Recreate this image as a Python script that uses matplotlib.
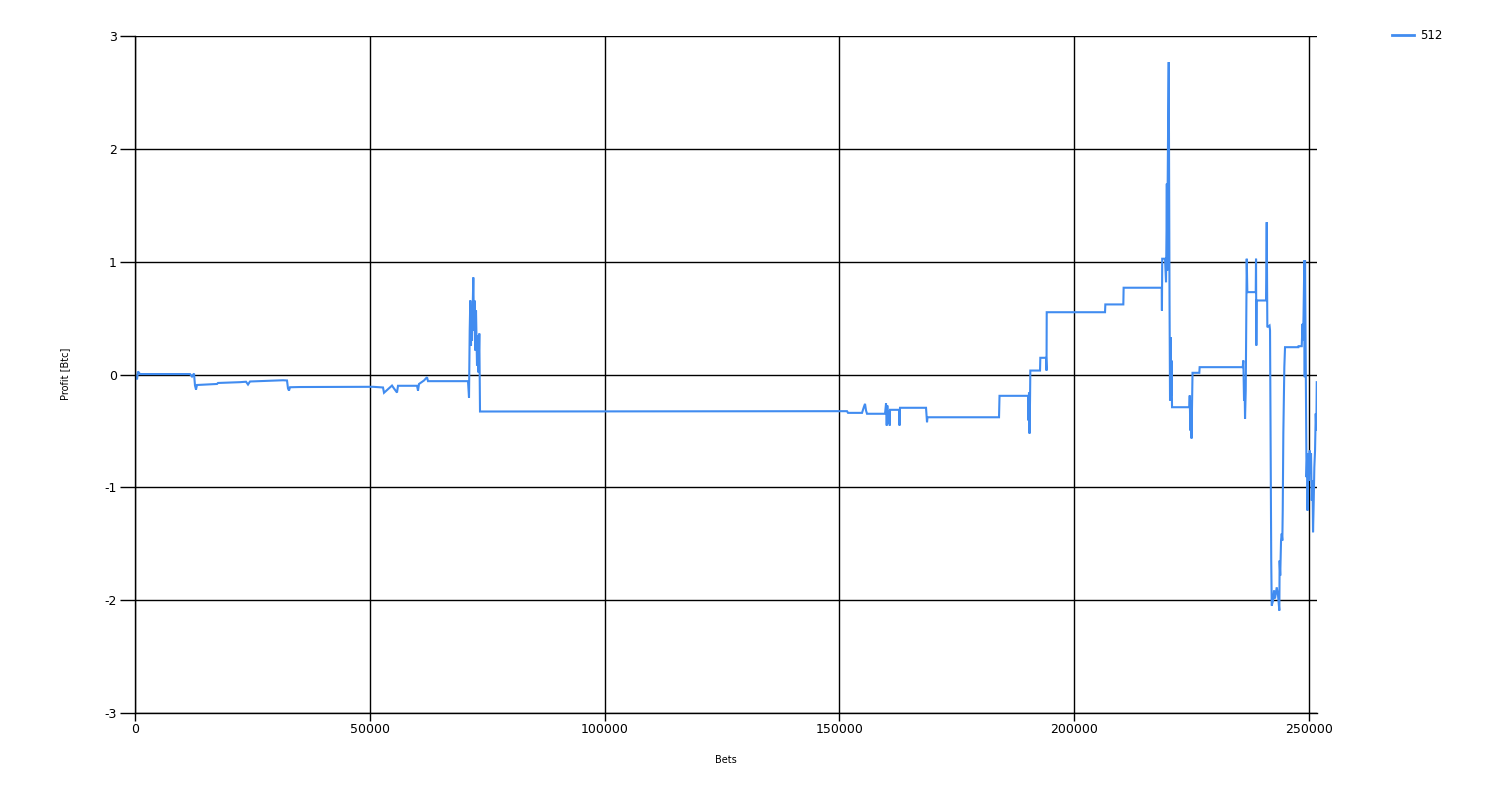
import matplotlib
matplotlib.use("Agg")
import matplotlib.pyplot as plt
from matplotlib.lines import Line2D

series_name = "512"
x_label = "Bets"
y_label = "Profit [Btc]"
x_ticks = [0, 50000, 100000, 150000, 200000, 250000]
y_ticks = [-3, -2, -1, 0, 1, 2, 3]

bets = [
    0, 426, 639, 1065, 11712, 12138, 12564, 12777, 12990, 13203,
    17462, 17675, 22360, 23637, 24063, 24489, 31517, 32368, 32581, 32794,
    33007, 35137, 50682, 52812, 53025, 54728, 55154, 55793, 56006, 60052,
    60265, 60478, 61543, 62181, 62394, 62820, 70912, 71125, 71274, 71402,
    71551, 71657, 71764, 72041, 72190, 72296, 72467, 72616, 72829, 73042,
    73149, 73319, 73404, 73468, 151620, 151833, 154815, 155241, 155454, 155667,
    155880, 159713, 159926, 160075, 160203, 160352, 160565, 160714, 160777, 162694,
    162801, 162907, 168443, 168656, 168762, 183989, 184095, 190164, 190271, 190377,
    190484, 190590, 190654, 192720, 192784, 193997, 194103, 194146, 206562, 206626,
    210459, 210523, 218636, 218679, 218742, 219339, 219552, 219658, 219722, 219807,
    219893, 220020, 220127, 220190, 220297, 220403, 220510, 220616, 220722, 220829,
    224513, 224598, 224726, 224833, 224982, 225194, 226643, 226707, 235885, 236013,
    236162, 236269, 236375, 236524, 236631, 236737, 236865, 238654, 238718, 238782,
    238846, 240847, 240996, 241124, 241593, 241699, 241954, 242061, 242338, 242551,
    242764, 243126, 243403, 243679, 243743, 243871, 244042, 244190, 244318, 244403,
    244531, 244744, 244893, 247725, 247768, 248449, 248620, 248726, 248833, 249003,
    249088, 249152, 249258, 249365, 249471, 249578, 249684, 249854, 250003, 250153,
    250280, 250429, 250578, 250749, 250856, 251005, 251133, 251282, 251431, 251559,
    251644,
]

profit = [
    0.000, -0.044, 0.027, 0.004, 0.004, -0.018, 0.009, -0.098, -0.133, -0.093,
    -0.084, -0.075, -0.068, -0.064, -0.089, -0.062, -0.051, -0.053, -0.124, -0.142,
    -0.113, -0.111, -0.109, -0.115, -0.162, -0.098, -0.124, -0.160, -0.100, -0.100,
    -0.142, -0.084, -0.053, -0.024, -0.059, -0.059, -0.059, -0.204, 0.390, 0.656,
    0.257, 0.612, 0.301, 0.860, 0.390, 0.656, 0.213, 0.567, 0.080, 0.346,
    0.018, 0.363, -0.009, -0.328, -0.325, -0.340, -0.340, -0.284, -0.260, -0.319,
    -0.348, -0.348, -0.257, -0.452, -0.275, -0.434, -0.319, -0.452, -0.313, -0.313,
    -0.452, -0.295, -0.295, -0.423, -0.379, -0.379, -0.189, -0.189, -0.408, -0.160,
    -0.523, -0.230, 0.035, 0.035, 0.148, 0.148, 0.035, 0.552, 0.552, 0.621,
    0.621, 0.769, 0.769, 0.567, 1.026, 1.026, 0.818, 1.277, 1.691, 0.922,
    1.631, 2.340, 2.769, 1.986, 0.656, -0.230, 0.331, -0.186, 0.124, -0.290,
    -0.290, -0.186, -0.496, -0.230, -0.567, 0.015, 0.015, 0.065, 0.065, 0.124,
    -0.230, -0.053, -0.393, -0.142, 0.479, 1.026, 0.730, 0.730, 1.026, 0.257,
    0.656, 0.656, 1.350, 0.419, 0.434, 0.390, -1.649, -2.048, -2.004, -1.915,
    -1.986, -1.886, -1.959, -2.092, -1.649, -1.782, -1.472, -1.410, -1.472, -1.206,
    -0.523, 0.065, 0.242, 0.242, 0.251, 0.251, 0.449, 0.301, 0.523, 1.011,
    -0.024, 1.011, 0.361, -0.230, -0.910, -0.762, -1.206, -0.700, -0.940, -0.674,
    -0.878, -0.700, -1.117, -0.940, -1.398, -1.117, -0.822, -0.674, -0.346, -0.496,
    -0.068,
]

line_color = "#418CF0"

fig = plt.figure(figsize=(15, 8), dpi=100)
ax = fig.add_axes([135 / 1500, 1 - 713 / 800, (1317 - 135) / 1500, (713 - 36) / 800])

ax.plot(bets, profit, color=line_color, linewidth=1.5, solid_joinstyle="miter")

ax.set_xlim(0, 251700)
ax.set_ylim(-3, 3)
ax.set_xticks(x_ticks)
ax.set_xticklabels([str(t) for t in x_ticks])
ax.set_yticks(y_ticks)
ax.set_yticklabels([str(t) for t in y_ticks])
ax.grid(True, color="black", linewidth=1.0)
ax.set_axisbelow(True)

for s in ["top", "right"]:
    ax.spines[s].set_visible(False)
for s in ["left", "bottom"]:
    ax.spines[s].set_color("black")
    ax.spines[s].set_linewidth(1.0)

ax.tick_params(axis="y", direction="out", length=11, width=1.0, pad=2, labelsize=9)
ax.tick_params(axis="x", direction="out", length=5.5, width=1.0, pad=2, labelsize=9)

fig.text(726 / 1500, 1 - 760 / 800, x_label, ha="center", va="center", fontsize=7)
fig.text(65 / 1500, 1 - 374 / 800, y_label, ha="center", va="center", fontsize=7, rotation=90)

handle = Line2D([], [], color=line_color, linewidth=2.0)
fig.legend([handle], [series_name], loc="upper left",
           bbox_to_anchor=(1392 / 1500, 1 - 29 / 800), frameon=False,
           fontsize=8.5, handlelength=1.9, handletextpad=0.45,
           borderpad=0, borderaxespad=0)

fig.savefig("out.png", dpi=100, facecolor="white")
